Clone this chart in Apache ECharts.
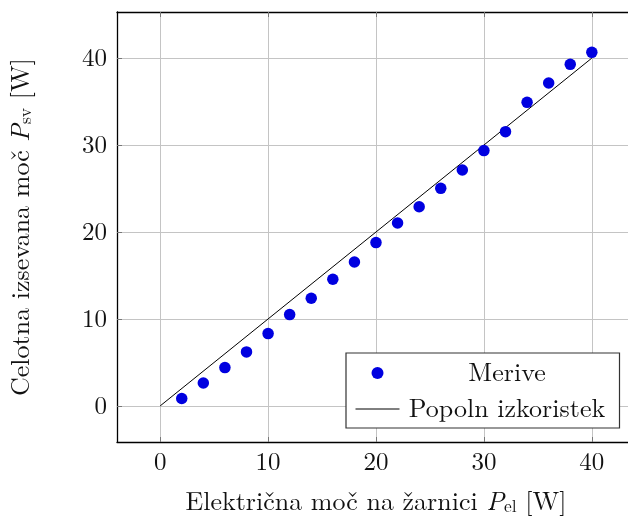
<!DOCTYPE html>
<html>
<head>
<meta charset="utf-8">
<script src="https://cdn.jsdelivr.net/npm/echarts@6/dist/echarts.min.js"></script>
<style>
  html, body { margin: 0; padding: 0; background: #fff; }
  #chart { width: 628px; height: 517px; }
</style>
</head>
<body>
<div id="chart"></div>
<script>
// meritve
const pEl = [2, 4, 6, 8, 10, 12, 14, 16, 18, 20, 22, 24, 26, 28, 30, 32, 34, 36, 38, 40]
const pSv = [0.85, 2.64, 4.41, 6.21, 8.32, 10.5, 12.38, 14.56, 16.55, 18.78,
  21.03, 22.9, 25.02, 27.13, 29.36, 31.54, 34.91, 37.13, 39.28, 40.66]
// popoln izkoristek P_sv = P_el
const idealX = [0, 40]
const idealY = [0, 40]
const xTicks = [0, 10, 20, 30, 40]
const yTicks = [0, 10, 20, 30, 40]

const textFont = '"Latin Modern Roman", "DejaVu Serif", serif'
const numFont = '"Latin Modern Roman", "Liberation Serif", serif'
const gridColor = '#c4c4c4'

const chart = echarts.init(document.getElementById('chart'))

const tickSet = (vals) => ({
  show: true,
  inside: true,
  length: 5,
  customValues: vals,
  lineStyle: { color: '#777', width: 1 }
})

const titleRich = {
  n: { fontSize: 26, fontFamily: textFont, color: '#111' },
  i: { fontSize: 26, fontFamily: textFont, fontStyle: 'italic', color: '#111' },
  s: { fontSize: 17.5, fontFamily: textFont, color: '#111', padding: [10, 0, 0, 0] }
}

chart.setOption({
  animation: false,
  textStyle: { fontFamily: textFont },
  grid: { left: 117, top: 12, width: 518, height: 430, containLabel: false, outerBoundsMode: 'none' },
  xAxis: [{
    type: 'value',
    min: -4,
    max: 44,
    position: 'bottom',
    axisLine: { onZero: false, lineStyle: { color: '#000', width: 1.3 } },
    axisTick: tickSet(xTicks),
    axisLabel: { customValues: xTicks, color: '#111', fontSize: 25, fontFamily: numFont, margin: 8 },
    splitLine: { show: true, lineStyle: { color: gridColor, width: 1 } },
    name: '{n|Električna moč na žarnici }{i|P}{s|el}{n| [W]}',
    nameLocation: 'middle',
    nameGap: 46,
    nameTextStyle: { rich: titleRich }
  }, {
    type: 'value',
    min: -4,
    max: 44,
    position: 'top',
    axisLine: { onZero: false, lineStyle: { color: '#000', width: 1.3 } },
    axisTick: tickSet(xTicks),
    axisLabel: { show: false },
    splitLine: { show: false }
  }],
  yAxis: [{
    type: 'value',
    min: -4.15,
    max: 45.3,
    position: 'left',
    axisLine: { show: true, onZero: false, lineStyle: { color: '#000', width: 1.3 } },
    axisTick: tickSet(yTicks),
    axisLabel: { customValues: yTicks, color: '#111', fontSize: 25, fontFamily: numFont, margin: 10 },
    splitLine: { show: true, lineStyle: { color: gridColor, width: 1 } },
    name: '{n|Celotna izsevana moč }{i|P}{s|sv}{n| [W]}',
    nameLocation: 'middle',
    nameRotate: 90,
    nameGap: 82,
    nameTextStyle: { rich: titleRich }
  }],
  legend: {
    orient: 'vertical',
    left: 346,
    top: 353,
    padding: [7, 10, 6, 9],
    itemGap: 10,
    itemWidth: 44,
    itemHeight: 12,
    backgroundColor: '#fff',
    borderColor: '#333',
    borderWidth: 1.2,
    borderRadius: 0,
    data: [
      { name: 'Merive', icon: 'circle', itemStyle: { color: '#0000e0', opacity: 1 } },
      { name: 'Popoln izkoristek', itemStyle: { opacity: 0 }, lineStyle: { color: '#000', width: 1, opacity: 1 } }
    ],
    formatter: name => '{c|' + name + '}',
    textStyle: {
      rich: {
        c: { width: 205, align: 'center', fontSize: 26, lineHeight: 28, fontFamily: textFont, color: '#111' }
      }
    }
  },
  series: [{
    name: 'Merive',
    type: 'scatter',
    symbol: 'circle',
    symbolSize: 11.5,
    itemStyle: { color: '#0000e0', opacity: 1 },
    data: pEl.map((x, i) => [x, pSv[i]]),
    z: 3
  }, {
    name: 'Popoln izkoristek',
    type: 'line',
    symbol: 'none',
    showSymbol: false,
    lineStyle: { color: '#000', width: 1 },
    itemStyle: { color: '#000' },
    data: idealX.map((x, i) => [x, idealY[i]]),
    z: 2
  }]
})
</script>
</body>
</html>
